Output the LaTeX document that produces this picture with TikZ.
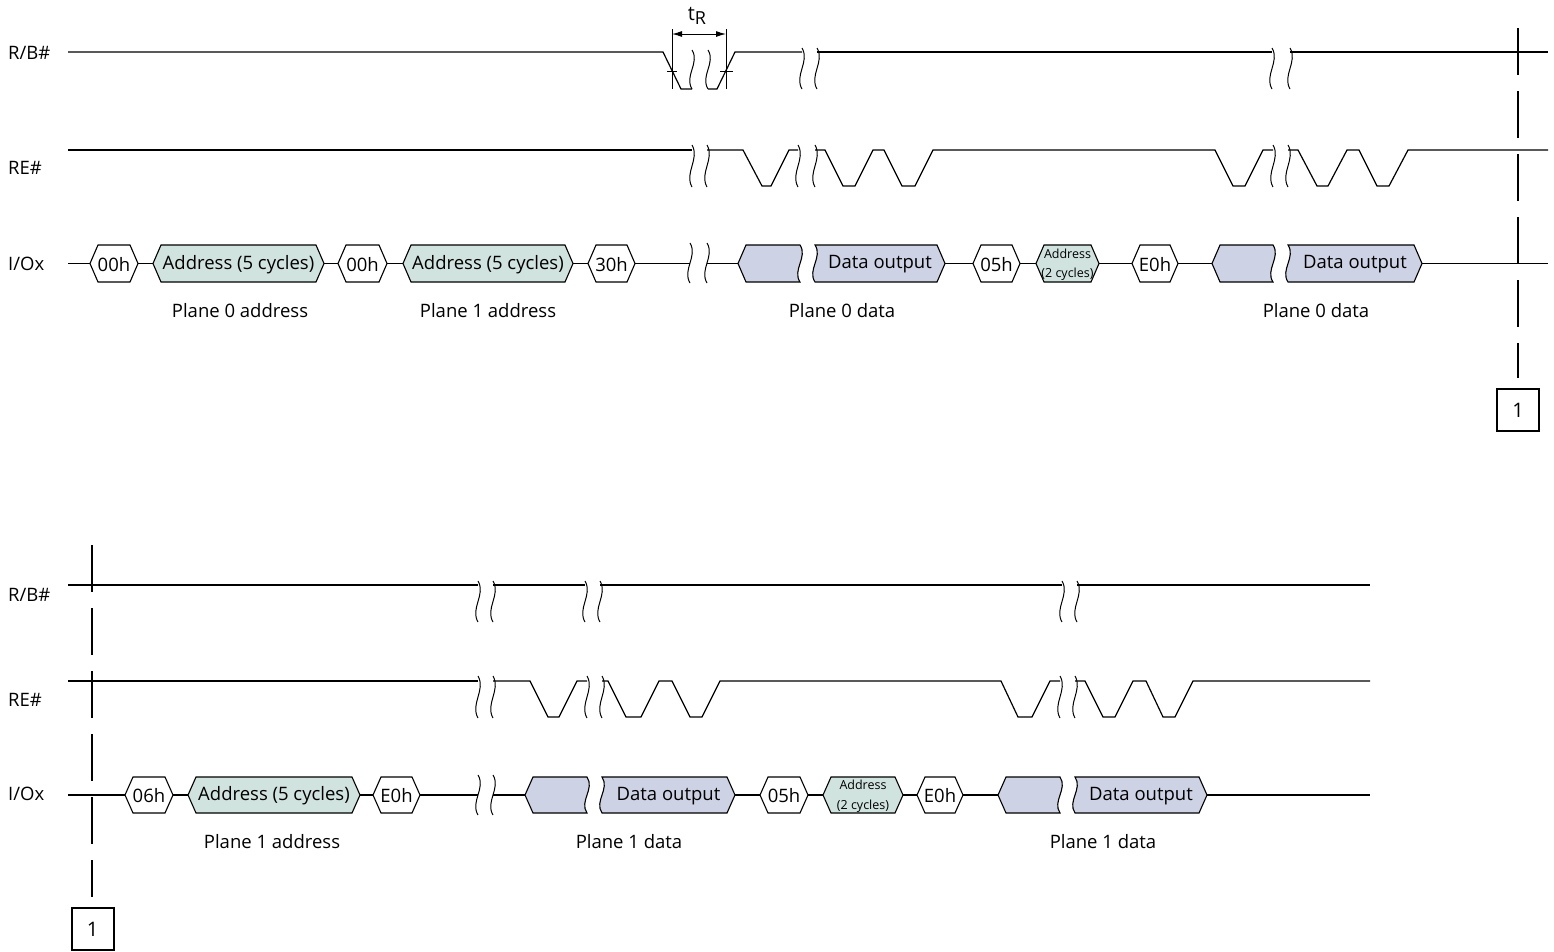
\documentclass[tikz,border=0pt]{standalone}
\usepackage{fontspec}
\setmainfont{Open Sans}
\usetikzlibrary{arrows.meta}
\definecolor{addrfill}{HTML}{D0E3DE}
\definecolor{datafill}{HTML}{CDD2E4}
\tikzset{
 sig/.style={line width=1.2pt, line join=miter},
 busbox/.style={draw, line width=1.1pt, line join=miter},
 lbl/.style={font=\fontsize{18.5}{21}\selectfont, inner sep=0pt, align=center},
 cut/.style={line width=1pt},
 dashv/.style={line width=1.1pt, dash pattern=on 47pt off 16pt},
 numbox/.style={draw, line width=2pt, minimum width=42pt, minimum height=42pt, inner sep=0pt, font=\fontsize{20}{22}\selectfont},
}
\def\hh{18.5}
% hexagon bus value: name, x1, x2, y, fill, text
\newcommand\hexb[6]{%
  \draw[busbox,fill=#5] (#2,#4) -- ({#2+8},{#4-\hh}) -- ({#3-8},{#4-\hh}) -- (#3,#4) -- ({#3-8},{#4+\hh}) -- ({#2+8},{#4+\hh}) -- cycle;
  \coordinate (#1-w) at (#2,#4); \coordinate (#1-e) at (#3,#4);
  \node[lbl] (#1) at ({(#2+#3)/2},{#4+1}) {#6};
}
% grey value, pointed left, wavy right: name, x1, x2, y
\newcommand\greyb[4]{%
  \draw[busbox,fill=datafill] (#2,#4) -- ({#2+8},{#4-\hh}) -- (#3,{#4-\hh}) .. controls ({#3+8},{#4-\hh/3}) and ({#3-8},{#4+\hh/3}) .. (#3,{#4+\hh}) -- ({#2+8},{#4+\hh}) -- cycle;
  \coordinate (#1-w) at (#2,#4);
}
% data value, wavy left, pointed right: name, x1, x2, y, text
\newcommand\datab[5]{%
  \draw[busbox,fill=datafill] (#2,{#4-\hh}) -- ({#3-8},{#4-\hh}) -- (#3,#4) -- ({#3-8},{#4+\hh}) -- (#2,{#4+\hh}) .. controls ({#2-8},{#4+\hh/3}) and ({#2+8},{#4-\hh/3}) .. (#2,{#4-\hh}) -- cycle;
  \coordinate (#1-e) at (#3,#4);
  \node[lbl] (#1) at ({(#2+#3)/2},{#4+1}) {#5};
}
% break mark: x, ytop, ybot
\newcommand\brk[3]{%
  \draw[cut] (#1,#2) .. controls ({#1+8},{#2+(#3-#2)/3}) and ({#1-8},{#2+2*(#3-#2)/3}) .. (#1,#3);
}
\newcommand\smalltwo{\fontsize{12.5}{11.5}\selectfont Address\\[-1.5pt]\fontsize{12.5}{11.5}\selectfont(2 cycles)}
\begin{document}
\begin{tikzpicture}[x=1pt,y=-1pt]
\useasboundingbox (0,0) rectangle (1554,951);

% ================= TOP =================
\node[lbl,anchor=west] (rbA) at (8,53) {R/B\#};
\node[lbl,anchor=west] (reA) at (8,168) {RE\#};
\node[lbl,anchor=west] (ioA) at (8,264) {I/Ox};

% R/B#
\draw[sig] (68,52) -- (663,52) -- (681,89) -- (692,89);
\draw[sig] (708,89) -- (717,89) -- (735,52) -- (802,52);
\draw[sig] (817,52) -- (1272,52);
\draw[sig] (1290,52) -- (1548,52);
\brk{692}{50}{89}\brk{708}{50}{89}
\brk{802}{48}{89}\brk{817}{48}{89}
\brk{1272}{48}{89}\brk{1290}{48}{89}
% tR
\coordinate (tRa) at (672,29); \coordinate (tRb) at (726,29);
\draw[cut] (tRa) -- (672,89);
\draw[cut] (tRb) -- (726,89);
\draw[cut] (667,71) -- (677,71);
\draw[cut] (720,71) -- (733,71);
\coordinate (tRl) at (672,34); \coordinate (tRr) at (726,34);
\draw[line width=1pt,{Latex[length=10pt,width=6pt]}-{Latex[length=10pt,width=6pt]}] (tRl) -- (tRr);
\node[lbl] (tR) at (697,16) {\fontsize{20}{20}\selectfont t\raisebox{-0.35ex}{\fontsize{18}{18}\selectfont R}};

% RE#
\def\H{150}\def\L{186}
\draw[sig] (68,\H) -- (692,\H);
\draw[sig] (707,\H) -- (743,\H) -- (762,\L) -- (771,\L) -- (789,\H) -- (798,\H);
\draw[sig] (815,\H) -- (825,\H) -- (843,\L) -- (855,\L) -- (873,\H) -- (884,\H) -- (902,\L) -- (915,\L) -- (933,\H) -- (1215,\H) -- (1233,\L) -- (1245,\L) -- (1263,\H) -- (1273,\H);
\draw[sig] (1288,\H) -- (1298,\H) -- (1317,\L) -- (1328,\L) -- (1347,\H) -- (1359,\H) -- (1377,\L) -- (1389,\L) -- (1408,\H) -- (1548,\H);
\brk{692}{145}{187}\brk{707}{145}{187}
\brk{798}{145}{187}\brk{815}{145}{187}
\brk{1273}{145}{187}\brk{1288}{145}{187}

% I/Ox
\def\hh{18.5}
\coordinate (ioS) at (68,263.5);
\hexb{c00a}{90}{138}{263.5}{white}{00h}
\hexb{ad0}{153}{324}{263.5}{addrfill}{Address (5 cycles)}
\hexb{c00b}{338}{387}{263.5}{white}{00h}
\hexb{ad1}{403}{573}{263.5}{addrfill}{Address (5 cycles)}
\hexb{c30}{588}{635}{263.5}{white}{30h}
\coordinate (ioB1) at (690,263.5); \coordinate (ioB2) at (707,263.5);
\greyb{g1}{738}{800}{263.5}
\datab{d1}{815}{945}{263.5}{Data output}
\hexb{c05}{973}{1020}{263.5}{white}{05h}
\hexb{ad2}{1036}{1099}{263.5}{addrfill}{\smalltwo}
\hexb{ce0}{1132}{1178}{263.5}{white}{E0h}
\greyb{g2}{1212}{1273}{263.5}
\datab{d2}{1288}{1422}{263.5}{Data output}
\coordinate (ioE) at (1548,263.5);
\draw[sig] (ioS) -- (c00a-w);
\draw[sig] (c00a-e) -- (ad0-w);
\draw[sig] (ad0-e) -- (c00b-w);
\draw[sig] (c00b-e) -- (ad1-w);
\draw[sig] (ad1-e) -- (c30-w);
\draw[sig] (c30-e) -- (ioB1);
\draw[sig] (ioB2) -- (g1-w);
\draw[sig] (d1-e) -- (c05-w);
\draw[sig] (c05-e) -- (ad2-w);
\draw[sig] (ad2-e) -- (ce0-w);
\draw[sig] (ce0-e) -- (g2-w);
\draw[sig] (d2-e) -- (ioE);
\brk{690}{243}{283}\brk{707}{243}{283}

\node[lbl] (p0a) at (240,311) {Plane 0 address};
\node[lbl] (p1a) at (488,311) {Plane 1 address};
\node[lbl] (p0d) at (842,311) {Plane 0 data};
\node[lbl] (p0d2) at (1316,311) {Plane 0 data};

% continuation
\node[numbox] (n1a) at (1518,410) {1};
\coordinate (vA) at (1518,28);
\draw[dashv] (vA) -- (1518,378);

% ================= BOTTOM =================
\node[lbl,anchor=west] (rbB) at (8,595) {R/B\#};
\node[lbl,anchor=west] (reB) at (8,700) {RE\#};
\node[lbl,anchor=west] (ioB) at (8,794) {I/Ox};

% R/B#
\draw[sig] (68,585) -- (478,585);
\draw[sig] (493,585) -- (585,585);
\draw[sig] (600,585) -- (1062,585);
\draw[sig] (1077,585) -- (1370,585);
\brk{478}{581}{622}\brk{493}{581}{622}
\brk{585}{581}{622}\brk{600}{581}{622}
\brk{1062}{581}{622}\brk{1077}{581}{622}

% RE#
\def\H{681}\def\L{717}
\draw[sig] (68,\H) -- (478,\H);
\draw[sig] (493,\H) -- (530,\H) -- (548,\L) -- (559,\L) -- (577,\H) -- (587,\H);
\draw[sig] (602,\H) -- (608,\H) -- (626,\L) -- (641,\L) -- (659,\H) -- (672,\H) -- (690,\L) -- (702,\L) -- (720,\H) -- (1001,\H) -- (1018,\L) -- (1032,\L) -- (1050,\H) -- (1060,\H);
\draw[sig] (1075,\H) -- (1085,\H) -- (1103,\L) -- (1115,\L) -- (1133,\H) -- (1146,\H) -- (1163,\L) -- (1175,\L) -- (1193,\H) -- (1370,\H);
\brk{478}{676}{718}\brk{493}{676}{718}
\brk{587}{676}{718}\brk{602}{676}{718}
\brk{1060}{676}{718}\brk{1075}{676}{718}

% I/Ox
\def\hh{18}
\coordinate (iobS) at (68,795);
\hexb{c06}{125}{173}{795}{white}{06h}
\hexb{ad3}{188}{360}{795}{addrfill}{Address (5 cycles)}
\hexb{ce1}{373}{420}{795}{white}{E0h}
\coordinate (iobB1) at (478,795); \coordinate (iobB2) at (493,795);
\greyb{g3}{525}{587}{795}
\datab{d3}{602}{735}{795}{Data output}
\hexb{c05b}{760}{808}{795}{white}{05h}
\hexb{ad4}{823}{903}{795}{addrfill}{\smalltwo}
\hexb{ce2}{917}{963}{795}{white}{E0h}
\greyb{g4}{998}{1060}{795}
\datab{d4}{1075}{1207}{795}{Data output}
\coordinate (iobE) at (1370,795);
\draw[sig] (iobS) -- (c06-w);
\draw[sig] (c06-e) -- (ad3-w);
\draw[sig] (ad3-e) -- (ce1-w);
\draw[sig] (ce1-e) -- (iobB1);
\draw[sig] (iobB2) -- (g3-w);
\draw[sig] (d3-e) -- (c05b-w);
\draw[sig] (c05b-e) -- (ad4-w);
\draw[sig] (ad4-e) -- (ce2-w);
\draw[sig] (ce2-e) -- (g4-w);
\draw[sig] (d4-e) -- (iobE);
\brk{478}{775}{815}\brk{493}{775}{815}

\node[lbl] (p1a2) at (272,842) {Plane 1 address};
\node[lbl] (p1d) at (629,842) {Plane 1 data};
\node[lbl] (p1d2) at (1103,842) {Plane 1 data};

\node[numbox] (n1b) at (92.5,929) {1};
\coordinate (vB) at (92,545);
\draw[dashv] (vB) -- (92,897);
\end{tikzpicture}
\end{document}
